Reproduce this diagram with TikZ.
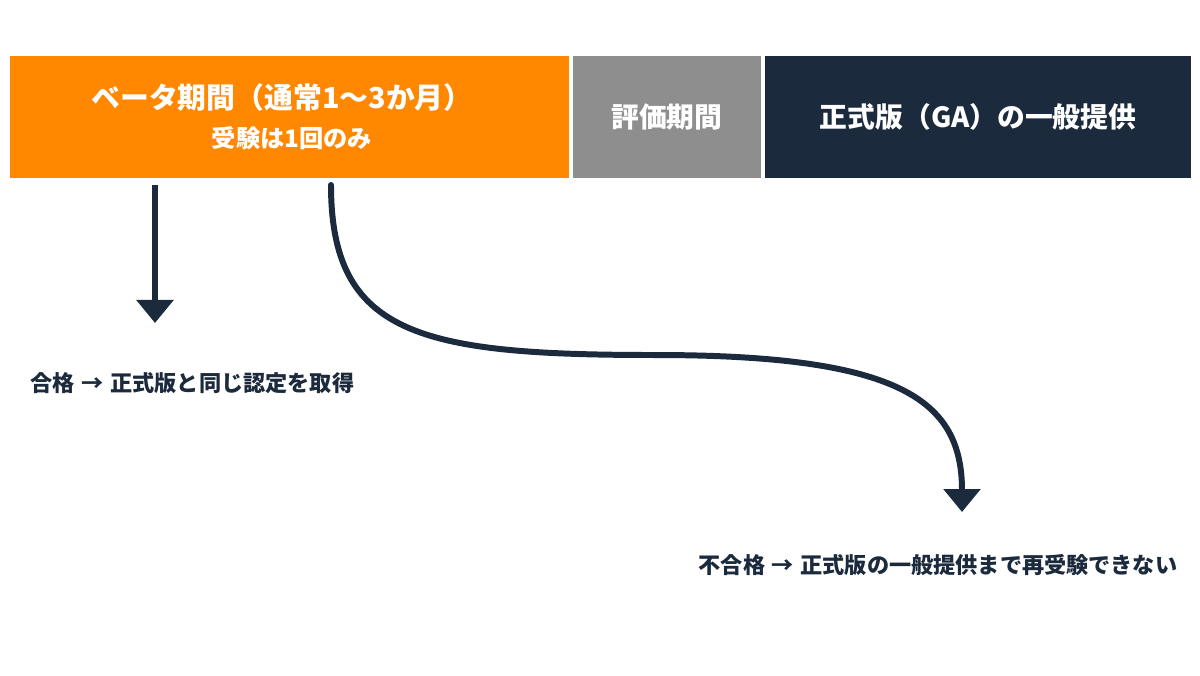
\documentclass[tikz,border=0pt]{standalone}
\usepackage{fontspec}
\setmainfont{Noto Sans CJK JP}
\usetikzlibrary{positioning}
\usetikzlibrary{arrows.meta}

\definecolor{laranja}{HTML}{FF8800}
\definecolor{cinza}{HTML}{8E8E8E}
\definecolor{marinho}{HTML}{1B2A3C}

\tikzset{
  barra/.style={fill=#1, text=white, font=\bfseries, minimum height=1.22cm, inner sep=0pt, anchor=north west},
  seta/.style={draw=marinho, line width=1.7pt, -{Triangle[length=0.23cm, width=0.36cm]}},
  nota/.style={text=marinho, font=\bfseries\fontsize{6.3}{8}\selectfont, inner sep=0pt, anchor=west}
}
\newcommand{\flecha}{\hspace{0.3em}→\hspace{0.3em}}

\begin{document}
\begin{tikzpicture}[x=0.01cm, y=-0.01cm]
        % Fundo
        \useasboundingbox (0, 0) rectangle (1200, 675);
        \fill[white] (0, 0) rectangle (1200, 675);

        % Barras das fases
        \node[barra=laranja, minimum width=5.59cm] (beta) at (9, 55) {};
        \node[barra=cinza, minimum width=1.87cm] (aval) at ([xshift=0.03cm]beta.north east) {};
        \node[barra=marinho, minimum width=4.26cm] (ga) at ([xshift=0.03cm]aval.north east) {};

        % Textos das barras
        \node[text=white, font=\bfseries\fontsize{8.2}{10}\selectfont, inner sep=0pt] (betaT) at (282, 98) {ベータ期間（通常1〜3か月）};
        \node[text=white, font=\bfseries\fontsize{6.9}{8}\selectfont, inner sep=0pt] (betaS) at (292, 138) {受験は1回のみ};
        \node[text=white, font=\bfseries\fontsize{7.9}{10}\selectfont, inner sep=0pt] (avalT) at (aval.center) {評価期間};
        \node[text=white, font=\bfseries\fontsize{7.9}{10}\selectfont, inner sep=0pt] (gaT) at (ga.center) {正式版（GA）の一般提供};

        % Resultados
        \node[nota] (passa) at (30, 383) {合格\flecha 正式版と同じ認定を取得};
        \node[nota] (falha) at (698, 565) {不合格\flecha 正式版の一般提供まで再受験できない};

        % Setas
        \coordinate (s1) at (155, 185);
        \coordinate (e1) at (155, 323);
        \coordinate (s2) at (331, 185);
        \coordinate (m2) at (655, 355);
        \coordinate (e2) at (962, 512);
        \draw[seta] (s1) -- (e1);
        \draw[seta, line cap=round] (s2) .. controls (331, 335) and (420, 355) .. (m2)
                           .. controls (900, 355) and (962, 400) .. (e2);
    \end{tikzpicture}
\end{document}
